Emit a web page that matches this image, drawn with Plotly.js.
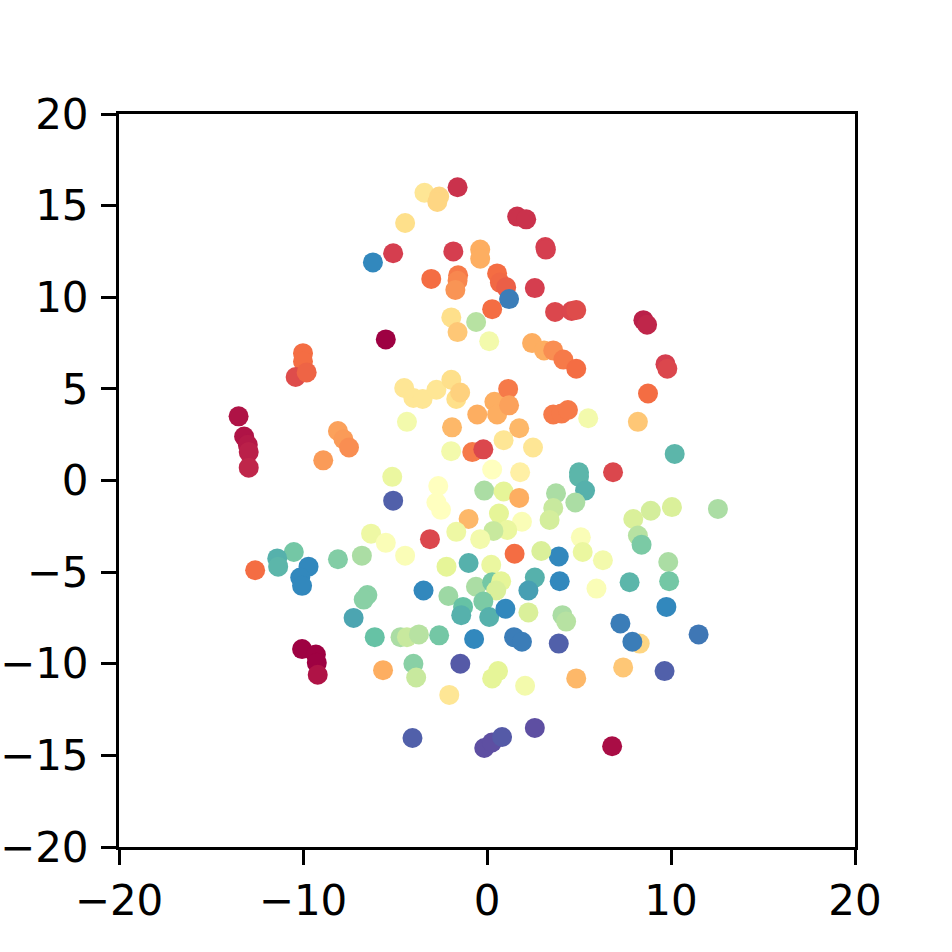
<!DOCTYPE html>
<html>
<head>
<meta charset="utf-8">
<script src="https://cdn.plot.ly/plotly-3.0.1.min.js"></script>
<style>html,body{margin:0;padding:0;background:#fff;}#chart{width:952px;height:952px;}</style>
</head>
<body>
<div id="chart"></div>
<script>
const xs = [-1.6,-3.4,-2.6,-2.7,-4.45,1.64,2.13,3.17,3.2,-1.83,-0.37,-0.37,-5.1,-6.2,-3.03,-1.57,-1.6,-1.72,0.55,0.7,1.04,1.2,2.6,0.28,-1.94,-0.59,-1.6,0.12,3.7,4.6,4.85,8.5,8.7,9.7,9.8,2.45,3.1,3.6,4.15,4.85,-10.0,-10.0,-5.5,-10.4,-9.8,
-13.5,-13.2,-13.0,-12.95,-12.95,-8.1,-7.8,-7.5,-8.9,-5.15,-5.1,-6.3,-5.5,-10.5,-11.4,-8.1,-6.8,
-4.5,-4.0,-3.5,-2.75,-1.94,-1.67,-1.46,-4.35,-1.9,-1.95,-0.8,-0.2,-0.53,0.4,0.55,1.15,1.2,1.75,0.9,2.5,0.28,1.8,3.6,4.05,4.4,5.5,8.75,8.2,10.2,5.0,5.0,5.33,6.85,4.8,3.75,3.6,3.4,12.55,10.05,8.9,7.95,8.2,8.4,5.1,5.2,6.3,9.85,3.9,-0.15,0.9,1.75,-2.65,-2.75,-2.5,0.65,1.9,1.1,0.35,-0.37,-1.0,-1.67,-3.1,-4.45,1.5,2.95,-2.2,-1.0,0.23,
-3.45,-2.1,-0.6,0.28,0.77,0.5,-0.2,-1.3,-1.4,0.12,1.0,2.6,2.25,3.95,2.25,4.1,4.3,-4.7,-4.35,-3.7,-2.6,-0.7,1.47,1.9,3.9,-4.0,-3.85,-1.45,0.6,0.28,2.07,-2.05,-4.05,2.6,-0.15,0.27,0.82,-5.65,-12.6,-11.35,-9.7,-10.15,-10.05,-6.5,-6.7,-7.25,-6.1,-10.05,-9.3,-9.25,-9.2,5.95,7.75,9.9,9.75,7.25,8.3,7.9,11.5,7.4,9.65,4.85,6.8];
const ys = [16.0,15.7,15.5,15.2,14.05,14.4,14.25,12.74,12.6,12.5,12.6,12.1,12.4,11.9,11.0,11.2,10.9,10.4,11.3,10.8,10.55,9.9,10.5,9.35,8.9,8.65,8.1,7.6,9.2,9.25,9.3,8.75,8.5,6.35,6.1,7.5,7.1,7.1,6.6,6.1,6.95,6.5,7.7,5.65,5.9,
3.5,2.4,1.95,1.55,0.7,2.7,2.25,1.8,1.1,0.2,-1.1,-2.9,-3.4,-3.9,-4.25,-4.3,-4.1,
5.05,4.5,4.45,4.95,5.5,4.45,4.8,3.2,2.9,1.6,1.55,1.7,3.6,4.3,3.6,5.0,4.1,2.85,2.2,1.8,0.6,0.45,3.6,3.65,3.85,3.4,4.75,3.2,1.45,0.45,0.2,-0.55,0.45,-1.2,-0.7,-1.5,-2.15,-1.55,-1.45,-1.65,-2.1,-3.0,-3.5,-3.1,-3.9,-4.35,-4.45,-4.15,-0.55,-0.6,-0.95,-0.3,-1.2,-1.6,-1.8,-2.25,-2.7,-2.75,-3.2,-2.1,-2.8,-3.2,-4.1,-4.0,-3.85,-4.7,-4.5,-4.6,
-6.0,-6.3,-5.8,-5.55,-5.5,-6.0,-6.6,-6.9,-7.35,-7.45,-7.0,-5.3,-6.0,-5.5,-7.2,-7.35,-7.7,-8.55,-8.55,-8.4,-8.45,-8.65,-8.55,-8.8,-8.9,-10.0,-10.75,-10.0,-10.4,-10.8,-11.2,-11.7,-14.05,-13.5,-14.6,-14.3,-14.0,-10.35,-4.9,-4.7,-4.7,-5.3,-5.75,-6.25,-6.5,-7.5,-8.55,-9.2,-9.5,-9.95,-10.6,-5.9,-5.55,-5.5,-6.9,-7.8,-8.9,-8.8,-8.4,-10.2,-10.4,-10.8,-14.5];
const cs = [0.08,0.42,0.38,0.38,0.40,0.08,0.08,0.1,0.1,0.1,0.3,0.3,0.1,0.9,0.2,0.22,0.24,0.26,0.2,0.19,0.17,0.92,0.1,0.2,0.4,0.68,0.35,0.55,0.12,0.12,0.13,0.05,0.06,0.1,0.12,0.3,0.3,0.25,0.22,0.2,0.2,0.2,0.0,0.13,0.18,
0.03,0.03,0.04,0.05,0.06,0.28,0.27,0.25,0.27,0.58,0.97,0.57,0.52,0.78,0.83,0.76,0.7,
0.42,0.42,0.42,0.42,0.4,0.4,0.37,0.55,0.32,0.55,0.22,0.12,0.3,0.3,0.3,0.22,0.28,0.32,0.42,0.42,0.5,0.45,0.22,0.22,0.22,0.55,0.2,0.35,0.82,0.82,0.82,0.83,0.12,0.7,0.7,0.65,0.63,0.7,0.62,0.63,0.62,0.68,0.77,0.52,0.58,0.55,0.7,0.9,0.7,0.6,0.3,0.5,0.5,0.5,0.6,0.52,0.58,0.65,0.55,0.32,0.57,0.12,0.52,0.2,0.62,0.6,0.83,0.58,
0.9,0.72,0.7,0.78,0.6,0.62,0.77,0.8,0.83,0.83,0.9,0.83,0.86,0.9,0.62,0.7,0.68,0.7,0.65,0.68,0.78,0.9,0.92,0.92,0.97,0.75,0.65,0.98,0.6,0.6,0.55,0.42,0.97,1.0,1.0,1.0,0.98,0.3,0.2,0.82,0.9,0.9,0.9,0.75,0.75,0.85,0.8,0.0,0.0,0.0,0.03,0.52,0.82,0.78,0.9,0.92,0.38,0.92,0.93,0.35,0.97,0.32,0.02];
const yTicks = [-20,-15,-10,-5,0,5,10,15,20];
const xTicks = [-20,-10,0,10,20];

const spectral = [[0,'#9e0142'],[0.1,'#d53e4f'],[0.2,'#f46d43'],[0.3,'#fdae61'],[0.4,'#fee08b'],[0.5,'#ffffbf'],[0.6,'#e6f598'],[0.7,'#abdda4'],[0.8,'#66c2a5'],[0.9,'#3288bd'],[1,'#5e4fa2']];

const trace = {
  x: xs, y: ys, mode: 'markers', type: 'scatter',
  marker: {size: 20, color: cs, colorscale: spectral, cmin: 0, cmax: 1, line: {width: 0}},
  hoverinfo: 'none', showlegend: false
};
const axisCommon = {
  range: [-20, 20], showgrid: false, zeroline: false,
  showline: true, linecolor: '#000', linewidth: 3, mirror: true,
  ticks: 'outside', ticklen: 15, tickwidth: 3, tickcolor: '#000',
  tickfont: {family: 'DejaVu Sans', size: 42, color: '#000'}
};
const fmt = v => (v < 0 ? '\u2212' + Math.abs(v) : String(v));
const layout = {
  width: 952, height: 952,
  margin: {l: 119, r: 97, t: 114, b: 105},
  paper_bgcolor: '#fff', plot_bgcolor: '#fff',
  xaxis: Object.assign({}, axisCommon, {tickmode: 'array', tickvals: xTicks, ticktext: xTicks.map(fmt)}),
  yaxis: Object.assign({}, axisCommon, {tickmode: 'array', tickvals: yTicks, ticktext: yTicks.map(fmt), ticklabelstandoff: 4})
};
Plotly.newPlot('chart', [trace], layout, {staticPlot: true, displayModeBar: false});
</script>
</body>
</html>
